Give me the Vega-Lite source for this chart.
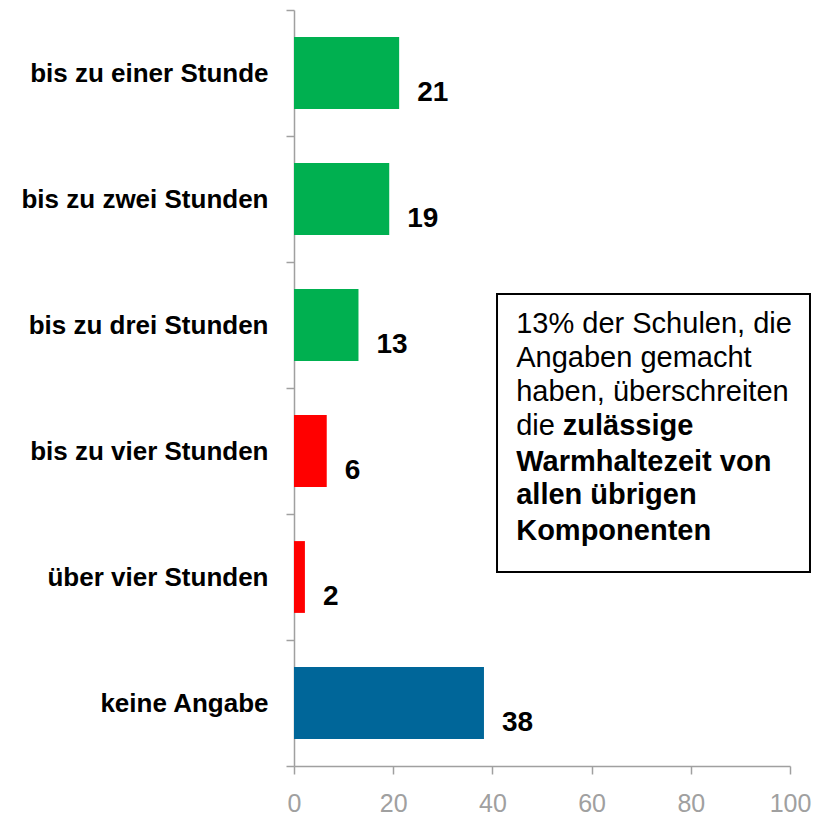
{
  "$schema": "https://vega.github.io/schema/vega-lite/v6.json",
  "width": 496,
  "height": 756,
  "autosize": {"type": "none"},
  "padding": {"left": 294, "top": 10, "right": 25, "bottom": 49},
  "background": "white",
  "config": {"view": {"stroke": null}, "font": "Liberation Sans"},
  "datasets": {
    "bars": [
      {"category": "bis zu einer Stunde", "value": 21.2, "label": "21", "group": "green"},
      {"category": "bis zu zwei Stunden", "value": 19.2, "label": "19", "group": "green"},
      {"category": "bis zu drei Stunden", "value": 13.0, "label": "13", "group": "green"},
      {"category": "bis zu vier Stunden", "value": 6.6, "label": "6", "group": "red"},
      {"category": "über vier Stunden", "value": 2.2, "label": "2", "group": "red"},
      {"category": "keine Angabe", "value": 38.3, "label": "38", "group": "blue"}
    ],
    "box": [{"x": 40.93, "x2": 104.03, "y": 2.254, "y2": 4.46}],
    "boxRegular": [
      {"x": 44.8, "y": 2.563, "text": "13% der Schulen, die"},
      {"x": 44.8, "y": 2.833, "text": "Angaben gemacht"},
      {"x": 44.8, "y": 3.103, "text": "haben, überschreiten"},
      {"x": 44.8, "y": 3.373, "text": "die"}
    ],
    "boxBold": [
      {"x": 54.2, "y": 3.373, "text": "zulässige"},
      {"x": 44.8, "y": 3.659, "text": "Warmhaltezeit von"},
      {"x": 44.8, "y": 3.921, "text": "allen übrigen"},
      {"x": 44.8, "y": 4.206, "text": "Komponenten"}
    ]
  },
  "layer": [
    {
      "data": {"name": "bars"},
      "layer": [
        {
          "mark": {"type": "bar", "height": {"band": 0.57}},
          "encoding": {
            "y": {
              "field": "category", "type": "nominal", "sort": null,
              "scale": {"paddingInner": 0, "paddingOuter": 0},
              "axis": {
                "title": null, "domainColor": "#A0A0A0", "domainWidth": 1.5,
                "tickColor": "#A0A0A0", "tickWidth": 1.5, "tickSize": 8, "tickBand": "extent",
                "labelFontSize": 26, "labelFontWeight": "bold", "labelColor": "#000000",
                "labelPadding": 18, "labelLimit": 300
              }
            },
            "x": {
              "field": "value", "type": "quantitative",
              "scale": {"domain": [0, 100], "nice": false},
              "axis": {
                "title": null, "values": [0, 20, 40, 60, 80, 100], "grid": false,
                "domainColor": "#A0A0A0", "domainWidth": 1.5, "tickColor": "#A0A0A0", "tickWidth": 1.5,
                "tickSize": 8, "labelFontSize": 25, "labelColor": "#A0A0A0",
                "labelPadding": 17, "labelFlush": false
              }
            },
            "color": {
              "field": "group", "type": "nominal",
              "scale": {"domain": ["green", "red", "blue"], "range": ["#00B050", "#FF0000", "#006699"]},
              "legend": null
            }
          }
        },
        {
          "mark": {"type": "text", "align": "left", "baseline": "middle", "dx": 18, "dy": 20, "fontSize": 28, "fontWeight": "bold", "color": "#000000"},
          "encoding": {
            "y": {"field": "category", "type": "nominal", "sort": null},
            "x": {"field": "value", "type": "quantitative"},
            "text": {"field": "label"}
          }
        }
      ]
    },
    {
      "layer": [
        {
          "data": {"name": "box"},
          "mark": {"type": "rect", "fill": "white", "stroke": "#000000", "strokeWidth": 2},
          "encoding": {
            "x": {"field": "x", "type": "quantitative"},
            "x2": {"field": "x2"},
            "y": {"field": "y", "type": "quantitative", "scale": {"domain": [0, 6], "reverse": true, "nice": false, "zero": false}, "axis": null},
            "y2": {"field": "y2"}
          }
        },
        {
          "data": {"name": "boxRegular"},
          "mark": {"type": "text", "align": "left", "baseline": "alphabetic", "fontSize": 29, "color": "#000000"},
          "encoding": {
            "x": {"field": "x", "type": "quantitative"},
            "y": {"field": "y", "type": "quantitative", "axis": null},
            "text": {"field": "text"}
          }
        },
        {
          "data": {"name": "boxBold"},
          "mark": {"type": "text", "align": "left", "baseline": "alphabetic", "fontSize": 29, "fontWeight": "bold", "color": "#000000"},
          "encoding": {
            "x": {"field": "x", "type": "quantitative"},
            "y": {"field": "y", "type": "quantitative", "axis": null},
            "text": {"field": "text"}
          }
        }
      ]
    }
  ],
  "resolve": {"scale": {"y": "independent"}}
}
